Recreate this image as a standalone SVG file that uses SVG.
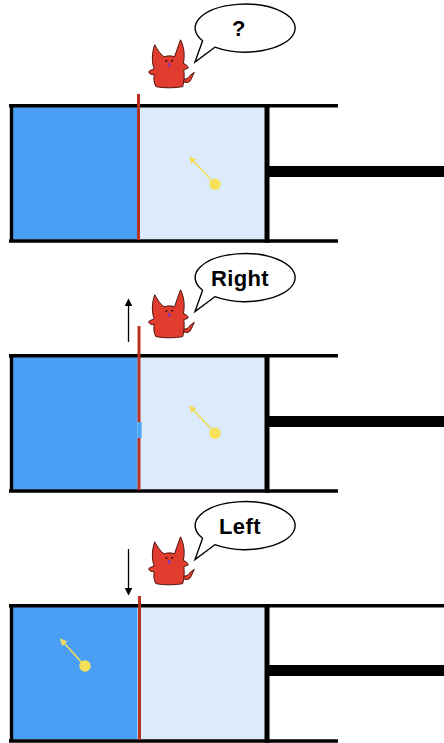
<svg xmlns="http://www.w3.org/2000/svg" xmlns:xlink="http://www.w3.org/1999/xlink" width="444" height="743" viewBox="0 0 444 743">
  <style>
    .wall { stroke: #000; stroke-width: 3.4; fill: none; }
    .piston { fill: #000; }
    .hot { fill: #4a9ff5; }
    .cold { fill: #dbebfb; }
    .door { fill: #b7321d; }
    .ball { fill: #f6e25a; }
    .vel { stroke: #f2dc5d; stroke-width: 1.6; fill: none; }
    .move { stroke: #000; stroke-width: 1.3; fill: none; }
    .bubble { fill: #fff; stroke: #000; stroke-width: 1.4; }
    .say { font-family: "Liberation Sans", Arial, sans-serif; font-weight: bold; font-size: 22px; letter-spacing: 0.4px; fill: #000; text-anchor: middle; }
    .body { fill: #e23c2e; stroke: #4a140e; stroke-width: 0.9; stroke-linejoin: round; }
  </style>
  <defs>
    <marker id="velHead" viewBox="0 0 10 10" refX="8" refY="5" markerWidth="4.5" markerHeight="4.5" orient="auto" markerUnits="strokeWidth">
      <path d="M0,0 L10,5 L0,10 Z" fill="#f2dc5d"/>
    </marker>
    <marker id="moveHead" viewBox="0 0 10 10" refX="8" refY="5" markerWidth="6" markerHeight="6" orient="auto" markerUnits="strokeWidth">
      <path d="M0,0 L10,5 L0,10 Z" fill="#000"/>
    </marker>
    <!-- speech bubble, centred on the ellipse, tail pointing down-left -->
    <path id="bubble" class="bubble" d="M -42.4,12.7 A 50 24 0 1 1 -30.1,19.2 L -50,34 Z"/>
    <!-- little demon -->
    <g id="demon">
      <path class="body" d="M 36.5,46 Q 43,48.5 44.5,43 L 47,37.5 L 43,40.5 Q 41,44.5 36.5,43.5 Z"/>
      <path class="body" d="M 12,50.5 C 10,47 10,43 10.5,39.5 C 8,40 6,39 5.5,37 C 7,35.5 9,35 10.5,34.5 C 8.5,29 8,21 11,12.5 C 13.5,17 16,21 19.5,23.5 C 23,22.3 26,22.3 29,23.5 C 31,18 32.5,13 34.5,8 C 38,15 38.5,23 37,29.5 C 39,30 41,31.5 41.5,33.5 C 40,34.5 38.5,35 37.5,35 C 38,40 38,45 36.5,50.5 C 30,52 18,52 12,50.5 Z"/>
      <circle cx="21.6" cy="27.3" r="0.95" fill="#3a0c08"/>
      <circle cx="26.8" cy="27.1" r="0.95" fill="#3a0c08"/>
      <ellipse cx="24.2" cy="30.8" rx="1.4" ry="1.9" fill="#8a3aa8"/>
    </g>
  </defs>

  <!-- panel 1: door closed, demon unsure -->
  <g id="panel1">
    <rect class="hot" x="13" y="107" width="124.5" height="132.5"/>
    <rect class="cold" x="140" y="107" width="125" height="132.5"/>
    <path class="wall" d="M9,105.8 H338 M9,241 H338 M11.5,105.8 V241"/>
    <rect class="piston" x="264.5" y="104.1" width="5" height="138.6"/>
    <rect class="piston" x="269" y="166" width="175" height="11"/>
    <rect class="door" x="137" y="94" width="3" height="146"/>
    <line class="vel" x1="214" y1="183" x2="190" y2="157.5" marker-end="url(#velHead)"/>
    <circle class="ball" cx="215" cy="184.3" r="5.7"/>
  </g>
  <g id="demon1"><use xlink:href="#demon" transform="translate(142.6,31) scale(1.1)"/></g>
  <g id="bubble1">
    <use xlink:href="#bubble" transform="translate(245,28)"/>
    <text class="say" x="239" y="36">?</text>
  </g>

  <!-- panel 2: door lifted, fast molecule let through -->
  <g id="panel2">
    <rect class="hot" x="13" y="357" width="124.5" height="132.5"/>
    <rect class="cold" x="140" y="357" width="125" height="132.5"/>
    <path class="wall" d="M9,355.8 H338 M9,491 H338 M11.5,355.8 V491"/>
    <rect class="piston" x="264.5" y="354.1" width="5" height="138.6"/>
    <rect class="piston" x="269" y="416" width="175" height="11"/>
    <rect class="door" x="137.5" y="326" width="3" height="96"/>
    <rect x="137.5" y="422" width="4" height="16" fill="#4ba6f8"/>
    <rect class="door" x="137.5" y="438" width="3" height="52"/>
    <line class="vel" x1="214" y1="432" x2="190" y2="406.5" marker-end="url(#velHead)"/>
    <circle class="ball" cx="215" cy="433.3" r="5.7"/>
  </g>
  <g id="demon2"><use xlink:href="#demon" transform="translate(142.6,281) scale(1.1)"/></g>
  <g id="bubble2">
    <use xlink:href="#bubble" transform="translate(245,277.5)"/>
    <text class="say" x="240" y="285.5">Right</text>
  </g>

  <!-- panel 3: door lowered, molecule stays left -->
  <g id="panel3">
    <rect class="hot" x="13" y="607" width="124.5" height="132.5"/>
    <rect class="cold" x="140" y="607" width="125" height="132.5"/>
    <path class="wall" d="M9,605.8 H444 M9,741 H338 M11.5,605.8 V741"/>
    <rect class="piston" x="264.5" y="604.1" width="5" height="138.6"/>
    <rect class="piston" x="269" y="665" width="175" height="11"/>
    <rect class="door" x="138" y="596" width="3" height="144"/>
    <line class="vel" x1="84" y1="665" x2="61" y2="639.5" marker-end="url(#velHead)"/>
    <circle class="ball" cx="85" cy="666" r="5.7"/>
  </g>
  <g id="demon3"><use xlink:href="#demon" transform="translate(142.6,528) scale(1.1)"/></g>
  <g id="bubble3">
    <use xlink:href="#bubble" transform="translate(245,525.5)"/>
    <text class="say" x="240" y="534">Left</text>
  </g>

  <!-- door movement arrows -->
  <g id="connectors">
    <line class="move" x1="128.5" y1="342" x2="128.5" y2="300" marker-end="url(#moveHead)"/>
    <line class="move" x1="128.5" y1="549" x2="128.5" y2="594" marker-end="url(#moveHead)"/>
  </g>
</svg>
